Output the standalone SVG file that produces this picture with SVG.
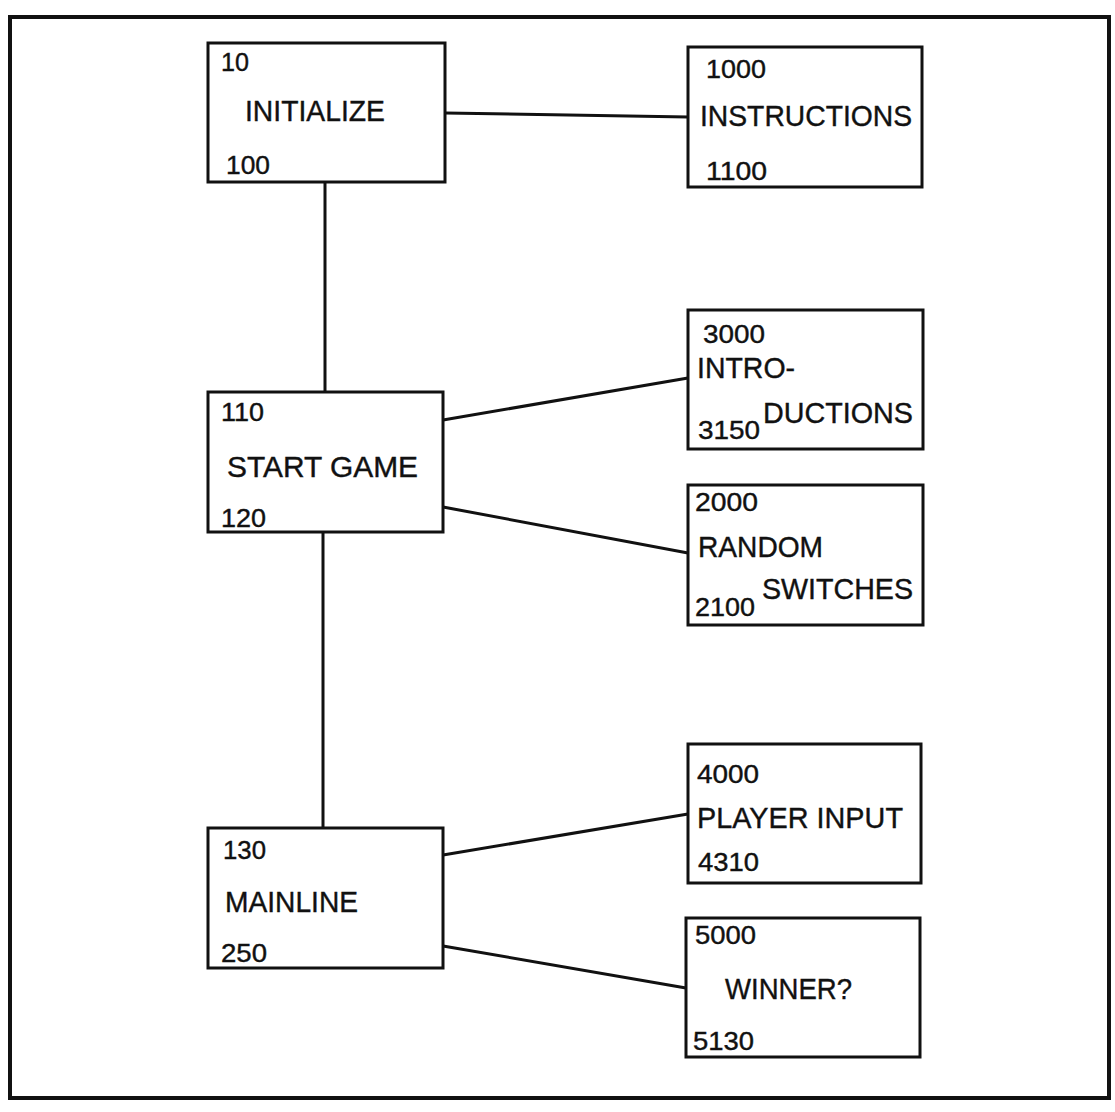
<svg xmlns="http://www.w3.org/2000/svg" width="1115" height="1112" viewBox="0 0 1115 1112">
<style>
.box{fill:#fff;stroke:#111;stroke-width:3}
.frame{fill:none;stroke:#111;stroke-width:4}
.con line{stroke:#111;stroke-width:3;stroke-linecap:round}
text{font-family:"Liberation Sans",Arial,Helvetica,sans-serif;fill:#111;stroke:#111;stroke-width:0.4;lengthAdjust:spacingAndGlyphs}
.n{font-size:26px}
.w{font-size:30px}
</style>
<rect width="1115" height="1112" fill="#fff"/>
<rect class="frame" x="10" y="17" width="1099" height="1081"/>
<g id="connectors" class="con">
<line x1="445" y1="113" x2="688" y2="117"/>
<line x1="325" y1="182" x2="325" y2="392"/>
<line x1="443" y1="420" x2="688" y2="378"/>
<line x1="443" y1="507" x2="688" y2="553"/>
<line x1="323" y1="532" x2="323" y2="828"/>
<line x1="443" y1="855" x2="688" y2="814"/>
<line x1="443" y1="946" x2="686" y2="988"/>
</g>
<g id="initialize">
<rect class="box" x="208" y="43" width="237" height="139"/>
<text class="n" x="221" y="71" textLength="28" lengthAdjust="spacingAndGlyphs">10</text>
<text class="w" x="245" y="121" textLength="140" lengthAdjust="spacingAndGlyphs">INITIALIZE</text>
<text class="n" x="226" y="174" textLength="44" lengthAdjust="spacingAndGlyphs">100</text>
</g>
<g id="instructions">
<rect class="box" x="688" y="47" width="234" height="140"/>
<text class="n" x="706" y="78" textLength="60" lengthAdjust="spacingAndGlyphs">1000</text>
<text class="w" x="700" y="126" textLength="212" lengthAdjust="spacingAndGlyphs">INSTRUCTIONS</text>
<text class="n" x="706" y="180" textLength="61" lengthAdjust="spacingAndGlyphs">1100</text>
</g>
<g id="start-game">
<rect class="box" x="208" y="392" width="235" height="140"/>
<text class="n" x="221" y="421" textLength="43" lengthAdjust="spacingAndGlyphs">110</text>
<text class="w" x="227" y="477" textLength="191" lengthAdjust="spacingAndGlyphs">START GAME</text>
<text class="n" x="221" y="527" textLength="45" lengthAdjust="spacingAndGlyphs">120</text>
</g>
<g id="introductions">
<rect class="box" x="688" y="310" width="235" height="139"/>
<text class="n" x="703" y="343" textLength="62" lengthAdjust="spacingAndGlyphs">3000</text>
<text class="w" x="697" y="378" textLength="98" lengthAdjust="spacingAndGlyphs">INTRO-</text>
<text class="w" x="763" y="423" textLength="150" lengthAdjust="spacingAndGlyphs">DUCTIONS</text>
<text class="n" x="698" y="439" textLength="62" lengthAdjust="spacingAndGlyphs">3150</text>
</g>
<g id="random-switches">
<rect class="box" x="688" y="485" width="235" height="140"/>
<text class="n" x="695" y="511" textLength="63" lengthAdjust="spacingAndGlyphs">2000</text>
<text class="w" x="698" y="557" textLength="125" lengthAdjust="spacingAndGlyphs">RANDOM</text>
<text class="w" x="762" y="599" textLength="151" lengthAdjust="spacingAndGlyphs">SWITCHES</text>
<text class="n" x="695" y="616" textLength="60" lengthAdjust="spacingAndGlyphs">2100</text>
</g>
<g id="mainline">
<rect class="box" x="208" y="828" width="235" height="140"/>
<text class="n" x="223" y="859" textLength="43" lengthAdjust="spacingAndGlyphs">130</text>
<text class="w" x="225" y="912" textLength="133" lengthAdjust="spacingAndGlyphs">MAINLINE</text>
<text class="n" x="221" y="962" textLength="46" lengthAdjust="spacingAndGlyphs">250</text>
</g>
<g id="player-input">
<rect class="box" x="688" y="744" width="233" height="139"/>
<text class="n" x="697" y="783" textLength="62" lengthAdjust="spacingAndGlyphs">4000</text>
<text class="w" x="697" y="828" textLength="206" lengthAdjust="spacingAndGlyphs">PLAYER INPUT</text>
<text class="n" x="698" y="871" textLength="61" lengthAdjust="spacingAndGlyphs">4310</text>
</g>
<g id="winner">
<rect class="box" x="686" y="918" width="234" height="139"/>
<text class="n" x="695" y="944" textLength="61" lengthAdjust="spacingAndGlyphs">5000</text>
<text class="w" x="725" y="999" textLength="127" lengthAdjust="spacingAndGlyphs">WINNER?</text>
<text class="n" x="693" y="1050" textLength="61" lengthAdjust="spacingAndGlyphs">5130</text>
</g>
</svg>
